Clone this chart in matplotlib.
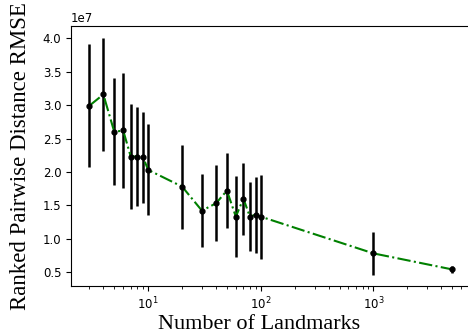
import matplotlib
matplotlib.use("Agg")
import matplotlib.pyplot as plt

landmarks = [3, 4, 5, 6, 7, 8, 9, 10, 20, 30, 40, 50, 60, 70, 80, 90, 100, 1000, 5000]
rmse = [2.99, 3.16, 2.60, 2.62, 2.23, 2.23, 2.22, 2.03, 1.78, 1.42, 1.53, 1.72, 1.33, 1.60, 1.33, 1.36, 1.33, 0.78, 0.54]
rmse_err = [0.92, 0.84, 0.80, 0.86, 0.78, 0.74, 0.68, 0.68, 0.63, 0.55, 0.57, 0.56, 0.61, 0.54, 0.52, 0.57, 0.63, 0.32, 0.05]

scale = 1e7
y = [v * scale for v in rmse]
e = [v * scale for v in rmse_err]

fig = plt.figure(figsize=(4.68, 3.33), dpi=100)
ax = fig.add_axes([0.152, 0.142, 0.853, 0.780])

ax.errorbar(landmarks, y, yerr=e, fmt='none', ecolor='black', elinewidth=1.8, capsize=0, zorder=2)
ax.plot(landmarks, y, color='green', linestyle='-.', linewidth=1.5, zorder=3)
ax.plot(landmarks, y, 'o', color='black', markersize=3.5, zorder=4)

ax.set_xscale('log')
ax.set_ylim(0.296e7, 4.185e7)
ax.set_yticks([v * scale for v in [0.5, 1.0, 1.5, 2.0, 2.5, 3.0, 3.5, 4.0]])
ax.tick_params(labelsize=8.5)
ax.yaxis.get_offset_text().set_fontsize(8.5)

ax.set_xlabel('Number of Landmarks', family='Liberation Serif', fontsize=16, labelpad=2)
ax.xaxis.label.set_x(0.47)
ax.set_ylabel('Ranked Pairwise Distance RMSE', family='Liberation Serif', fontsize=16.5, labelpad=8.5)

fig.savefig('out.png', dpi=100)
